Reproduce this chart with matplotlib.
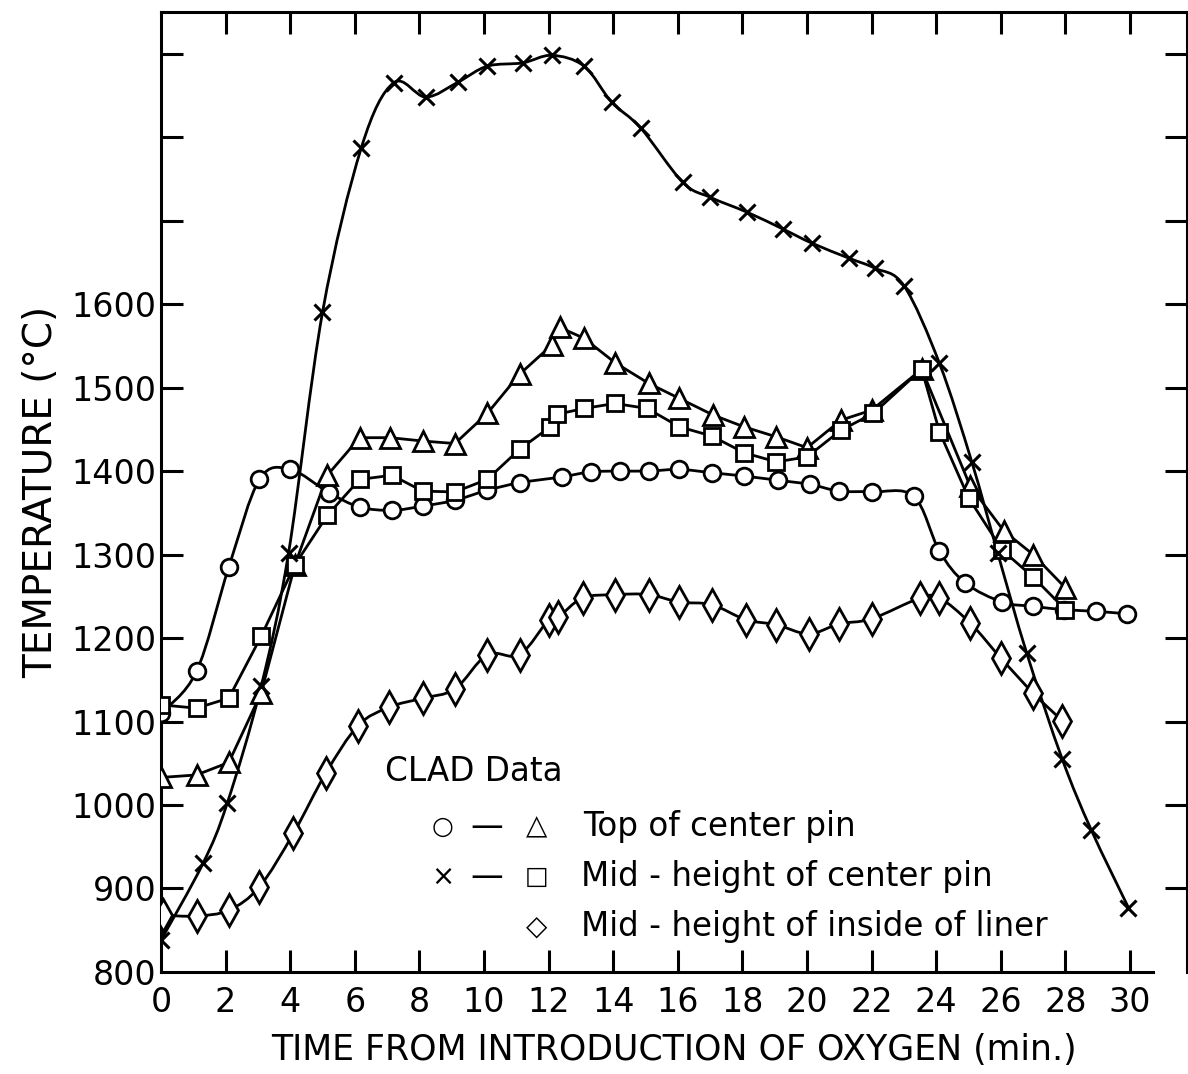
import numpy as np
import matplotlib
matplotlib.use("Agg")
import matplotlib.pyplot as plt
from matplotlib.path import Path
from matplotlib.patches import PathPatch

# CLAD data, time in minutes, temperature in deg C
circle_t = [0, 1.1, 2.1, 3.05, 4.0, 5.2, 6.15, 7.15, 8.1, 9.1, 10.1, 11.1, 12.4, 13.3,
            14.2, 15.1, 16.05, 17.05, 18.05, 19.1, 20.1, 21.0, 22.0, 23.3, 24.1, 24.9,
            26.05, 27.0, 27.95, 28.95, 29.9]
circle_T = [1110, 1160, 1285, 1390, 1402, 1374, 1357, 1353, 1358, 1365, 1377, 1386, 1393, 1399,
            1400, 1400, 1402, 1398, 1394, 1389, 1384, 1376, 1375, 1370, 1304, 1266,
            1243, 1238, 1234, 1232, 1229]

tri_t = [0, 1.1, 2.1, 3.1, 4.15, 5.15, 6.15, 7.1, 8.1, 9.1, 10.1, 11.1, 12.1, 12.35, 13.1,
         14.05, 15.1, 16.05, 17.1, 18.05, 19.05, 20.0, 21.05, 22.0, 23.55, 25.05, 26.1,
         27.0, 28.0]
tri_T = [1033, 1036, 1051, 1134, 1288, 1395, 1440, 1440, 1436, 1433, 1469, 1516, 1551, 1572, 1559,
         1530, 1505, 1487, 1467, 1453, 1441, 1428, 1461, 1473, 1522, 1382, 1328,
         1300, 1260]

sq_t = [0, 1.1, 2.1, 3.1, 4.15, 5.15, 6.15, 7.15, 8.1, 9.1, 10.1, 11.1, 12.05, 12.25, 13.1,
        14.05, 15.05, 16.05, 17.05, 18.05, 19.05, 20.0, 21.05, 22.05, 23.55, 24.1, 25.0,
        26.05, 27.0, 28.0]
sq_T = [1120, 1116, 1128, 1202, 1288, 1347, 1390, 1395, 1376, 1375, 1390, 1426, 1453, 1468, 1475,
        1481, 1475, 1453, 1442, 1422, 1411, 1417, 1449, 1469, 1522, 1447, 1368,
        1305, 1273, 1234]

x_t = [0, 1.3, 2.05, 3.1, 3.95, 5.0, 6.2, 7.2, 8.2, 9.2, 10.1, 11.2, 12.1, 13.1, 13.95,
       14.85, 16.15, 17.0, 18.15, 19.25, 20.15, 21.3, 22.1, 23.0, 24.1, 25.1, 25.9,
       26.8, 27.9, 28.8, 29.95]
x_T = [838, 930, 1002, 1142, 1302, 1590, 1787, 1865, 1848, 1866, 1885, 1889, 1898, 1885, 1842,
       1811, 1746, 1728, 1710, 1690, 1673, 1655, 1643, 1622, 1529, 1411, 1302,
       1182, 1055, 970, 877]

dia_t = [0.05, 1.1, 2.1, 3.05, 4.1, 5.1, 6.1, 7.05, 8.1, 9.1, 10.1, 11.1, 12.0, 12.3, 13.05,
         14.05, 15.1, 16.05, 17.05, 18.1, 19.05, 20.05, 21.0, 22.0, 23.5, 24.1, 25.05,
         26.0, 27.0, 27.9]
dia_T = [868, 867, 874, 902, 966, 1038, 1095, 1117, 1128, 1139, 1180, 1180, 1222, 1225, 1248,
         1252, 1252, 1243, 1240, 1222, 1216, 1205, 1217, 1223, 1248, 1248, 1218,
         1176, 1134, 1101]

yticks_labeled = [800, 900, 1000, 1100, 1200, 1300, 1400, 1500, 1600]
xticks = list(range(0, 31, 2))

LW = 2.0
FS = 24


def smooth_path(xs, ys):
    # catmull-rom curve through the points, written as cubic beziers
    p = np.column_stack([xs, ys]).astype(float)
    p = np.vstack([p[0], p, p[-1]])
    verts = [tuple(p[1])]
    codes = [Path.MOVETO]
    for i in range(1, len(p) - 2):
        c1 = p[i] + (p[i + 1] - p[i - 1]) / 6.0
        c2 = p[i + 1] - (p[i + 2] - p[i]) / 6.0
        verts += [tuple(c1), tuple(c2), tuple(p[i + 1])]
        codes += [Path.CURVE4] * 3
    return Path(verts, codes)


fig = plt.figure(figsize=(11.88, 10.74), dpi=100)
ax = fig.add_axes([0.1355, 0.095, 0.8636, 0.8939])

# smooth curves
for xs, ys in [(x_t, x_T), (circle_t, circle_T), (dia_t, dia_T)]:
    ax.add_patch(PathPatch(smooth_path(xs, ys), fill=False, lw=LW, ec='black', zorder=2))
# straight segment curves
ax.plot(tri_t, tri_T, '-', color='black', lw=LW, zorder=2)
ax.plot(sq_t, sq_T, '-', color='black', lw=LW, zorder=2)

mk = dict(ls='none', mfc='white', mec='black', mew=2.0, zorder=3)
ax.plot(circle_t, circle_T, marker='o', ms=12, **mk)
ax.plot(tri_t, tri_T, marker='^', ms=15, **mk)
ax.plot(sq_t, sq_T, marker='s', ms=11, **mk)
ax.plot(dia_t, dia_T, marker='d', ms=16, **mk)
ax.plot(x_t, x_T, marker='x', ms=11, ls='none', mec='black', mew=2.2, zorder=3)

ax.set_xlim(0, 31.76)
ax.set_ylim(800, 1950)

# frame and ticks
for s in ax.spines.values():
    s.set_linewidth(2.2)
ax.spines['bottom'].set_bounds(0, 30.7)

ax.set_xticks(xticks)
ax.set_xticklabels([str(v) for v in xticks])
ax.set_yticks(list(range(800, 2000, 100)))
ax.set_yticklabels([str(v) if v in yticks_labeled else '' for v in range(800, 2000, 100)])
ax.tick_params(direction='in', length=16, width=2.2, top=True, right=True,
               labelsize=FS)
ax.tick_params(axis='x', pad=10)
ax.tick_params(axis='y', pad=3)
# no tick mark at the bottom left corner
ax.yaxis.get_major_ticks()[0].tick1line.set_visible(False)
ax.yaxis.get_major_ticks()[0].tick2line.set_visible(False)
ax.xaxis.get_major_ticks()[0].tick1line.set_visible(False)
ax.xaxis.get_major_ticks()[0].tick2line.set_visible(False)

ax.set_xlabel('TIME FROM INTRODUCTION OF OXYGEN (min.)', fontsize=25, labelpad=10)
ax.set_ylabel('TEMPERATURE (°C)', fontsize=28, labelpad=8)

# key
fs_key = 23.5
ax.text(6.93, 1040, 'CLAD Data', fontsize=fs_key, ha='left', va='center')
ax.text(8.73, 974, '○', fontsize=18, ha='center', va='center')
ax.text(10.1, 974, '—', fontsize=fs_key, ha='center', va='center')
ax.text(11.64, 974, '△', fontsize=20, ha='center', va='center')
ax.text(13.07, 974, 'Top of center pin', fontsize=fs_key, ha='left', va='center')
ax.text(8.73, 914, '×', fontsize=20, ha='center', va='center')
ax.text(10.1, 914, '—', fontsize=fs_key, ha='center', va='center')
ax.text(11.64, 914, '□', fontsize=18, ha='center', va='center')
ax.text(13.0, 914, 'Mid - height of center pin', fontsize=fs_key, ha='left', va='center')
ax.text(11.64, 854, '◇', fontsize=20, ha='center', va='center')
ax.text(13.0, 854, 'Mid - height of inside of liner', fontsize=fs_key, ha='left', va='center')

fig.savefig('out.png', dpi=100)
